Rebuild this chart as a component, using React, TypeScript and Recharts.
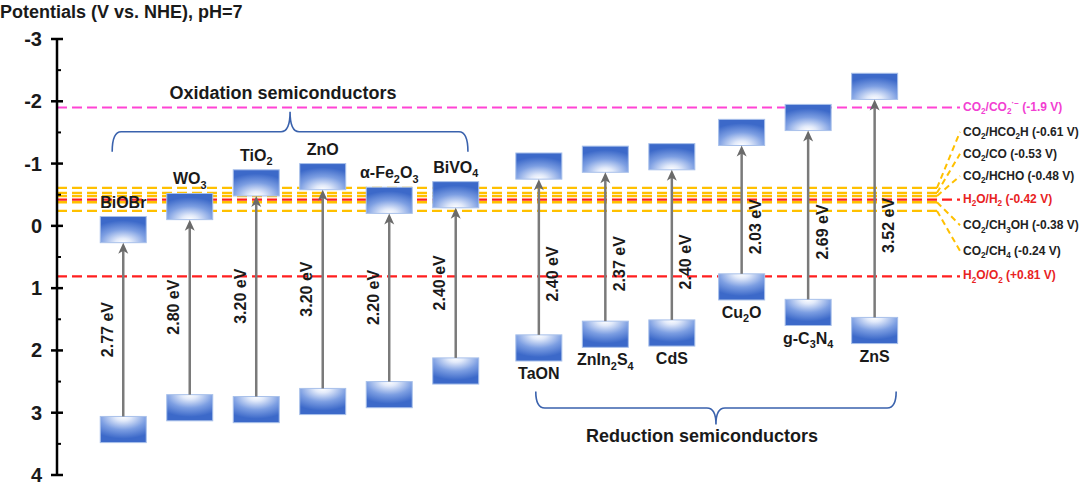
import React from 'react';
import { ComposedChart, Bar, XAxis, YAxis, ReferenceLine, ReferenceArea } from 'recharts';

const FONT = '"Liberation Sans", Arial, Helvetica, sans-serif';

// ---------- data ----------
const semiconductors = ['BiOBr', 'WO_3', 'TiO_2', 'ZnO', 'α-Fe_2O_3', 'BiVO_4', 'TaON', 'ZnIn_2S_4', 'CdS', 'Cu_2O', 'g-C_3N_4', 'ZnS'];
const groups = ['ox', 'ox', 'ox', 'ox', 'ox', 'ox', 'red', 'red', 'red', 'red', 'red', 'red'];
const slots = [1, 2, 3, 4, 5, 6, 7.25, 8.25, 9.25, 10.3, 11.3, 12.3];
const cbEdge = [0.27, -0.1, -0.48, -0.58, -0.2, -0.29, -0.75, -0.86, -0.9, -1.29, -1.53, -2.03];
const vbEdge = [3.06, 2.71, 2.74, 2.61, 2.5, 2.12, 1.75, 1.53, 1.51, 0.77, 1.18, 1.47];
const gapText = ['2.77 eV', '2.80 eV', '3.20 eV', '3.20 eV', '2.20 eV', '2.40 eV', '2.40 eV', '2.37 eV', '2.40 eV', '2.03 eV', '2.69 eV', '3.52 eV'];
const BAND = 0.42;

const potentials = [-0.61, -0.53, -0.48, -0.38, -0.24, -0.42, 0.81, -1.9];
const potentialLabels = [
  'CO_2/HCO_2H (-0.61 V)',
  'CO_2/CO (-0.53 V)',
  'CO_2/HCHO (-0.48 V)',
  'CO_2/CH_3OH (-0.38 V)',
  'CO_2/CH_4 (-0.24 V)',
  'H_2O/H_2 (-0.42 V)',
  'H_2O/O_2 (+0.81 V)',
  'CO_2/CO_2^·−^ (-1.9 V)',
];
const potentialKinds = ['co2', 'co2', 'co2', 'co2', 'co2', 'water', 'water', 'radical'];

const yTicks = [-3, -2.5, -2, -1.5, -1, -0.5, 0, 0.5, 1, 1.5, 2, 2.5, 3, 3.5, 4];

// ---------- layout / style ----------
const FAN_DY: Record<string, number> = { '-0.61': -56, '-0.53': -39, '-0.48': -20, '-0.38': 23, '-0.24': 40 };
const KIND_STYLE: Record<string, { stroke: string; text: string }> = {
  co2: { stroke: '#ffc000', text: '#222222' },
  water: { stroke: '#ff1f1f', text: '#e8231f' },
  radical: { stroke: '#ff44d4', text: '#f23fd2' },
};

const rows = semiconductors.map((name, i) => ({
  slot: slots[i],
  name,
  group: groups[i],
  cb: [cbEdge[i] - BAND, cbEdge[i]],
  vb: [vbEdge[i], vbEdge[i] + BAND],
  gap: [cbEdge[i], vbEdge[i]],
  gapLabel: gapText[i],
}));

function parseRich(s: string) {
  const out: { t: string; k: 'n' | 'sub' | 'sup' }[] = [];
  let buf = '';
  for (let i = 0; i < s.length; i++) {
    const c = s[i];
    if (c === '_') {
      if (buf) { out.push({ t: buf, k: 'n' }); buf = ''; }
      out.push({ t: s[i + 1], k: 'sub' });
      i++;
    } else if (c === '^') {
      if (buf) { out.push({ t: buf, k: 'n' }); buf = ''; }
      const j = s.indexOf('^', i + 1);
      out.push({ t: s.slice(i + 1, j), k: 'sup' });
      i = j;
    } else buf += c;
  }
  if (buf) out.push({ t: buf, k: 'n' });
  return out;
}

function Rich({ x, y, text, size, fill = '#1a1a1a', anchor = 'middle', weight = 'bold', transform }: any) {
  const parts = parseRich(text);
  let cur = 0;
  return (
    <text x={x} y={y} textAnchor={anchor} fontSize={size} fontWeight={weight} fill={fill} fontFamily={FONT} transform={transform}>
      {parts.map((p, i) => {
        const target = p.k === 'sub' ? size * 0.28 : p.k === 'sup' ? -size * 0.38 : 0;
        const dy = target - cur;
        cur = target;
        return (
          <tspan key={i} dy={dy} fontSize={p.k === 'n' ? size : size * 0.68}>
            {p.t}
          </tspan>
        );
      })}
    </text>
  );
}

const norm = (p: any) => {
  const top = Math.min(p.y, p.y + p.height);
  const h = Math.abs(p.height);
  return { top, h, bottom: top + h, cx: p.x + p.width / 2 };
};

const rowOf = (p: any) => (p.payload && p.payload.name ? p.payload : rows[p.index]);

const CBShape = (p: any) => {
  const { top, h, cx } = norm(p);
  const r = rowOf(p);
  return (
    <g>
      <rect x={p.x} y={top} width={p.width} height={h} fill="url(#gradCB)" stroke="#a8c0ea" strokeWidth={1} />
      {r && r.group === 'ox' ? <Rich x={cx} y={top - 9} text={r.name} size={16} /> : null}
    </g>
  );
};

const VBShape = (p: any) => {
  const { top, h, bottom, cx } = norm(p);
  const r = rowOf(p);
  return (
    <g>
      <rect x={p.x} y={top} width={p.width} height={h} fill="url(#gradVB)" stroke="#a8c0ea" strokeWidth={1} />
      {r && r.group === 'red' ? <Rich x={cx} y={bottom + 18} text={r.name} size={16} /> : null}
    </g>
  );
};

const ArrowShape = (p: any) => {
  const { top, bottom, cx } = norm(p);
  const r = rowOf(p);
  const mid = (top + bottom) / 2 + (r && r.group === 'red' ? 17 : 0);
  const lx = r && r.group === 'red' ? cx + 14 : cx - 16;
  return (
    <g>
      <line x1={cx} y1={bottom} x2={cx} y2={top + 7} stroke="#7a7a7a" strokeWidth={2.5} />
      <path d={`M${cx},${top} L${cx - 5},${top + 11} L${cx},${top + 8} L${cx + 5},${top + 11} Z`} fill="#6a6a6a" />
      {r ? (
        <text
          transform={`translate(${lx},${mid}) rotate(-90)`}
          textAnchor="middle"
          dominantBaseline="central"
          fontSize={16}
          fontWeight="bold"
          fill="#1a1a1a"
          fontFamily={FONT}
        >
          {r.gapLabel}
        </text>
      ) : null}
    </g>
  );
};

const makePotentialShape = (value: number, label: string, kind: string) => (p: any) => {
  const st = KIND_STYLE[kind];
  const { x1, y1, x2 } = p;
  const y = y1;
  if (kind === 'co2') {
    const dy = FAN_DY[String(value)] ?? 0;
    const end = x2 - 23;
    return (
      <g>
        <line x1={x1} y1={y} x2={end} y2={y} stroke={st.stroke} strokeWidth={2.4} strokeDasharray="10 5" />
        <line x1={end} y1={y} x2={x2} y2={y + dy} stroke={st.stroke} strokeWidth={2} strokeDasharray="6 4" />
        <Rich x={x2 + 3} y={y + dy + 4} text={label} size={12} anchor="start" fill={st.text} />
      </g>
    );
  }
  return (
    <g>
      <line x1={x1} y1={y} x2={x2} y2={y} stroke={st.stroke} strokeWidth={2.2} strokeDasharray="10 5" />
      <Rich x={x2 + 3} y={y + 3} text={label} size={12} anchor="start" fill={st.text} />
    </g>
  );
};

const makeBrace = (label: string, tipUp: boolean) => (p: any) => {
  const L = p.x;
  const R = p.x + p.width;
  const T = p.y;
  const B = p.y + p.height;
  const M = (T + B) / 2;
  const cx = (L + R) / 2;
  const rad = 9;
  const yEnd = tipUp ? B : T;
  const yTip = tipUp ? T : B;
  const d = `M${L},${yEnd} Q${L},${M} ${L + rad},${M} L${cx - rad},${M} Q${cx},${M} ${cx},${yTip} Q${cx},${M} ${cx + rad},${M} L${R - rad},${M} Q${R},${M} ${R},${yEnd}`;
  return (
    <g>
      <path d={d} fill="none" stroke="#3a62ad" strokeWidth={1.6} />
      <text
        x={cx - (tipUp ? 7 : 14)}
        y={tipUp ? T - 13 : B + 17}
        textAnchor="middle"
        fontSize={18}
        fontWeight="bold"
        fill="#1a1a1a"
        fontFamily={FONT}
      >
        {label}
      </text>
    </g>
  );
};

const YTick = (p: any) => {
  const { x, y, payload } = p;
  const v = payload.value;
  if (Number.isInteger(v)) {
    return (
      <g>
        <line x1={x - 6} x2={x + 6} y1={y} y2={y} stroke="#000" strokeWidth={2.5} />
        <text x={x - 15} y={y} textAnchor="end" dominantBaseline="central" fontSize={20} fontWeight="bold" fill="#1a1a1a" fontFamily={FONT}>
          {v}
        </text>
      </g>
    );
  }
  return <line x1={x} x2={x + 4} y1={y} y2={y} stroke="#000" strokeWidth={2} />;
};

const X_DOMAIN: [number, number] = [0, 13.58];

export default function App() {
  return (
    <div style={{ position: 'absolute', left: 0, top: 0, width: 1080, height: 485, background: '#fff' }}>
      <div
        style={{
          position: 'absolute',
          left: 0,
          top: 2,
          fontFamily: FONT,
          fontWeight: 'bold',
          fontSize: 18,
          color: '#1a1a1a',
          whiteSpace: 'nowrap',
        }}
      >
        Potentials (V vs. NHE), pH=7
      </div>
      <ComposedChart width={1080} height={485} data={rows} margin={{ top: 39, right: 120, bottom: 10, left: 0 }}>
        <defs>
          <radialGradient id="gradCB" cx="0.5" cy="1" r="0.85" fx="0.5" fy="1">
            <stop offset="0" stopColor="#ffffff" />
            <stop offset="0.2" stopColor="#e2eafa" />
            <stop offset="0.6" stopColor="#7c9ee2" />
            <stop offset="1" stopColor="#3c69c9" />
          </radialGradient>
          <radialGradient id="gradVB" cx="0.5" cy="0" r="0.85" fx="0.5" fy="0">
            <stop offset="0" stopColor="#ffffff" />
            <stop offset="0.2" stopColor="#e2eafa" />
            <stop offset="0.6" stopColor="#7c9ee2" />
            <stop offset="1" stopColor="#3c69c9" />
          </radialGradient>
        </defs>
        <XAxis xAxisId="cb" type="number" dataKey="slot" domain={X_DOMAIN} hide allowDataOverflow />
        <XAxis xAxisId="vb" type="number" dataKey="slot" domain={X_DOMAIN} hide allowDataOverflow />
        <XAxis xAxisId="gap" type="number" dataKey="slot" domain={X_DOMAIN} hide allowDataOverflow />
        <YAxis
          type="number"
          domain={[-3, 4]}
          reversed
          ticks={yTicks}
          interval={0}
          width={57}
          allowDataOverflow
          axisLine={{ stroke: '#000', strokeWidth: 2.5 }}
          tickLine={false}
          tickSize={0}
          tickMargin={0}
          tick={<YTick />}
        />
        <ReferenceArea
          xAxisId="cb"
          x1={0.83}
          x2={6.18}
          y1={-1.83}
          y2={-1.19}
          ifOverflow="visible"
          shape={makeBrace('Oxidation semiconductors', true)}
        />
        <ReferenceArea
          xAxisId="cb"
          x1={7.2}
          x2={12.62}
          y1={2.66}
          y2={3.19}
          ifOverflow="visible"
          shape={makeBrace('Reduction semiconductors', false)}
        />
        {potentials.map((v, i) => (
          <ReferenceLine
            key={i}
            xAxisId="cb"
            y={v}
            ifOverflow="visible"
            zIndex={200}
            shape={makePotentialShape(v, potentialLabels[i], potentialKinds[i])}
          />
        ))}
        <Bar xAxisId="cb" dataKey="cb" barSize={46} isAnimationActive={false} shape={CBShape} />
        <Bar xAxisId="vb" dataKey="vb" barSize={46} isAnimationActive={false} shape={VBShape} />
        <Bar xAxisId="gap" dataKey="gap" barSize={46} isAnimationActive={false} shape={ArrowShape} />
      </ComposedChart>
    </div>
  );
}
